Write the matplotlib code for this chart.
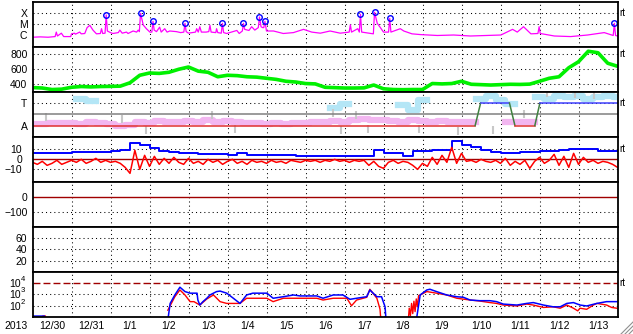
import numpy as np
import matplotlib.pyplot as plt
from matplotlib.lines import Line2D

plt.rcParams['font.family'] = ['Liberation Sans', 'DejaVu Sans']

nan = np.nan

# time axis: days since 2012-12-30 00:00
day_labels = ['12/30', '12/31', '1/1', '1/2', '1/3', '1/4', '1/5', '1/6',
              '1/7', '1/8', '1/9', '1/10', '1/11', '1/12', '1/13']

# x-ray flux (units of 1e-6 W/m2)
xr_day = [0.00, 0.20, 0.40, 0.58, 0.61, 0.64, 0.74, 0.80, 0.98, 1.00, 1.08, 1.10,
          1.21, 1.25, 1.34, 1.40, 1.47, 1.55, 1.64, 1.74, 1.77, 1.80, 1.86, 1.89,
          1.92, 2.00, 2.06, 2.20, 2.24, 2.30, 2.41, 2.45, 2.58, 2.67, 2.71, 2.74,
          2.77, 2.84, 2.92, 3.01, 3.06, 3.09, 3.12, 3.18, 3.26, 3.30, 3.39, 3.45,
          3.52, 3.69, 3.80, 3.88, 3.91, 3.94, 4.00, 4.18, 4.21, 4.25, 4.29, 4.33,
          4.45, 4.52, 4.55, 4.58, 4.70, 4.72, 4.75, 4.84, 4.87, 4.90, 4.98, 5.24,
          5.30, 5.38, 5.41, 5.44, 5.55, 5.62, 5.70, 5.79, 5.82, 5.86, 5.90, 5.93,
          5.96, 6.00, 6.18, 6.43, 6.69, 6.95, 7.16, 7.38, 7.63, 7.89, 8.12, 8.15,
          8.18, 8.34, 8.38, 8.41, 8.44, 8.74, 8.77, 8.84, 8.92, 9.00, 9.13, 9.16,
          9.19, 9.43, 9.52, 9.73, 9.95, 10.38, 10.80, 11.23, 11.66, 12.01, 12.31,
          12.43, 12.59, 12.78, 12.96, 12.99, 13.02, 13.38, 13.80, 14.23, 14.66,
          14.89, 14.92, 14.95, 15.00]
xr_flux = [0.70, 0.75, 0.70, 0.80, 2.0, 0.9, 1.6, 0.8, 0.8, 1.4, 1.6, 1.3,
           2.0, 1.4, 1.5, 5.0, 8.0, 3.0, 1.4, 1.5, 4.0, 1.5, 1.6, 66,
           2.5, 1.8, 1.5, 1.8, 3.0, 1.6, 2.0, 1.5, 2.5, 2.0, 3.0, 2.2,
           93, 8.5, 4.0, 2.0, 2.0, 18, 3.0, 2.2, 5.5, 2.0, 4.0, 2.0,
           2.5, 2.2, 1.8, 2.0, 12, 2.2, 1.6, 2.0, 4.0, 2.0, 6.0, 2.0,
           2.0, 2.2, 8.0, 2.0, 1.8, 4.0, 1.8, 1.6, 12, 1.8, 1.5, 2.8,
           1.5, 2.5, 12, 3.5, 2.8, 6.0, 3.0, 5.0, 44, 6.0, 5.0, 5.0,
           18, 2.5, 2.5, 1.5, 1.8, 3.5, 2.0, 1.6, 2.5, 1.6, 2.0, 9.0,
           2.0, 4.0, 2.0, 76, 2.0, 1.4, 115, 12, 5.0, 2.0, 2.0, 33,
           2.0, 4.0, 2.5, 1.4, 1.2, 1.0, 1.1, 0.9, 1.0, 1.1, 3.5,
           2.0, 6.0, 1.4, 1.5, 6.0, 1.5, 0.9, 0.8, 1.1, 1.8,
           1.0, 12, 1.0, 0.9]
flare_day = [1.89, 2.77, 3.09, 3.91, 4.87, 5.41, 5.82, 5.96, 8.41, 8.77, 9.16, 14.92]
flare_flux = [66, 93, 18, 12, 12, 12, 44, 18, 76, 115, 33, 12]

# solar wind speed (km/s), every 6 h
sw_speed = [356, 350, 330, 335, 360, 370, 365, 370, 372, 375, 420, 520,
            550, 545, 560, 600, 630, 575, 560, 500, 520, 515, 500, 495,
            480, 465, 440, 430, 410, 405, 360, 355, 350, 350, 352, 390,
            340, 330, 328, 330, 330, 410, 405, 410, 440, 400, 395, 390,
            395, 400, 398, 402, 440, 480, 500, 620, 700, 840, 820, 680, 640]

# activity panel: A level = 1, T level = 3, every 6 h
act_pink = [1.1, 1.15, 1.25, 1.2, 1.25, 1.15, 1.3, 1.2, 1.1, 0.95, 1.05, 1.3,
            1.25, 1.4, 1.3, 1.35, 1.4, 1.35, 1.45, 1.35, 1.4, 1.3, 1.2, 1.25,
            1.15, 1.2, 1.1, 1.25, 1.2, 1.35, 1.3, 1.4, 1.3, 1.5, 1.55, 1.45,
            1.5, 1.4, 1.35, 1.45, 1.4, 1.3, 1.4, 1.35, 1.3, 1.35, nan, nan,
            nan, 1.3, 1.35, 1.3, nan, nan, nan, nan, nan, nan, nan, nan, nan]
act_blue = [nan, nan, nan, nan, nan, 3.4, 3.2, nan, nan, nan, nan, nan,
            nan, nan, nan, nan, nan, nan, nan, nan, nan, nan, nan, nan,
            nan, nan, nan, nan, nan, nan, nan, 2.6, 2.9, nan, nan, nan,
            nan, nan, 2.8, 2.4, 3.3, nan, nan, nan, nan, nan, 3.4, 3.6,
            3.3, 2.9, nan, nan, 3.5, 3.4, 3.6, 3.5, 3.6, 3.4, 3.5, 3.6, 3.5]
gray_day = [0.35, 2.3, 2.9, 4.6, 5.2, 7.7, 7.9, 8.3, 8.6, 9.9, 10.9, 11.8, 12.6, 13.2, 13.9, 14.4]
gray_lev = [1.8, 1.6, 0.6, 1.9, 0.7, 2.1, 0.6, 1.9, 0.7, 0.7, 0.5, 0.6, 2.0, 3.9, 3.8, 3.7]
state_day = [0, 11.35, 11.49, 12.23, 12.37, 12.88, 13.01, 15]
state_lev = [1, 1, 3, 3, 1, 1, 3, 3]

# IMF (nT): Bt every 6 h, Bz every 3 h
bt = [6, 6, 6, 6.5, 7.5, 7.6, 7.6, 7.6, 8, 9, 16, 14,
      11, 8, 7.5, 6, 6, 5.3, 5.3, 5, 4.6, 6, 4.6, 4.5,
      4, 4, 4, 3.8, 3.5, 3, 3, 3, 3, 3, 3.5, 9.6,
      6.3, 6, 3.5, 8, 8.5, 9.3, 9, 18, 14, 12, 9, 7,
      6.6, 6.6, 7.6, 7.6, 8.6, 8.6, 9.5, 10, 10, 10.5, 8, 8, 8]
bz = [-3, -5, -2, -6, -4, -1, -5, -3, -1, -3, 0, -4, -2, 1, -3, -1,
      -3, -2, -4, -8, -14, 9, -10, 4, -7, 3, -5, 1, -4, 2, -3, -5,
      1, -4, -2, -5, 0, -3, -1, -5, -2, 0, -4, -2, -5, -1, -3, -2,
      -4, -1, -3, -2, -4, -1, -2, -3, -1, -2, -1, -3, -1, -2, 0, -2,
      -1, -3, -1, -2, -1, -6, -2, -7, -9, -3, -1, -4, -2, -3, -6, -10,
      -4, -7, 2, -5, 4, -3, 12, -4, 6, -2, -1, -3, 0, -2, -3, -1,
      -4, 1, -6, -2, -5, -1, -9, -2, 2, -4, -1, 5, -6, 3, -8, 6,
      -5, 2, -3, -1, -4, -2, -3, -5, -8]

# proton flux (pfu)
pb_day = [0.0, 0.3, 0.31, 3.44, 3.53, 3.65, 3.78, 3.91, 4.04, 4.22, 4.24, 4.29,
          4.37, 4.47, 4.55, 4.64, 4.72, 4.81, 4.98, 5.15, 5.32, 5.49, 5.65, 6.01,
          6.17, 6.43, 6.69, 6.86, 7.29, 7.45, 7.71, 7.96, 8.14, 8.31, 8.57, 8.65,
          8.83, 8.95, 9.04, 9.08, 9.09, 9.81, 9.94, 10.11, 10.19, 10.36, 10.62,
          10.88, 11.05, 11.22, 11.47, 11.73, 11.9, 12.07, 12.42, 12.67, 12.84,
          13.1, 13.35, 13.53, 13.7, 13.87, 14.04, 14.21, 14.47, 14.72, 14.98]
pb_flux = [12, 12, nan, 1, 160, 900, 4400, 1800, 1300, 1300, 320, 115,
           230, 460, 900, 1300, 1800, 2000, 1300, 460, 160, 900, 1300, 1300,
           460, 630, 900, 740, 740, 460, 900, 900, 370, 460, 630, 2500,
           630, 630, 80, 1, nan, 1, 900, 2500, 2900, 1800, 900,
           630, 560, 320, 280, 280, 230, 140, 115, 160, 190,
           115, 80, 80, 160, 190, 115, 95, 160, 230, 230]
pr_day = [0.27, 0.33, 0.34, 3.47, 3.65, 3.78, 3.91, 4.04, 4.14, 4.29, 4.47, 4.64,
          4.81, 4.98, 5.15, 5.32, 5.49, 5.65, 6.01, 6.17, 6.43, 6.86, 7.29, 7.45,
          7.71, 8.06, 8.18, 8.31, 8.57, 8.65, 8.83, 8.91, 8.95, 8.96,
          9.63, 9.66, 9.69, 9.72, 9.75, 9.78, 9.81, 9.84, 9.87, 9.90, 9.94,
          10.11, 10.36, 10.62, 10.88, 11.22, 11.47, 11.73, 11.9, 12.07, 12.42,
          12.67, 12.84, 13.1, 13.35, 13.53, 13.7, 13.87, 13.98, 14.04, 14.21,
          14.38, 14.47, 14.72, 14.85, 14.98]
pr_flux = [12, 12, nan, 40, 630, 2500, 900, 230, 230, 115, 400, 900,
           230, 160, 160, 160, 460, 460, 460, 230, 460, 460, 460, 320,
           460, 460, 100, 320, 560, 2900, 460, 50, 1, nan,
           3, 60, 13, 160, 20, 250, 30, 400, 80, 800, 900,
           1800, 1300, 900, 460, 320, 260, 190, 160, 115, 95,
           140, 115, 70, 80, 60, 115, 60, 35, 60, 48,
           115, 160, 115, 70, 60]
p_levels = [1e4, 1e3, 1e2]
p_exps = ['4', '3', '2']

# ------------------------------------------------------------------
W, H = 633, 334
fig = plt.figure(figsize=(W / 100, H / 100), dpi=100)
x0, x1 = 32.5, 617.5
top, ph = 1.7, 45.04
dot = dict(color='k', lw=0.75, ls=(0, (1, 3)), zorder=1)
darkred = '#A00000'

axes = []
for i in range(7):
    yb = top + (i + 1) * ph
    ax = fig.add_axes([x0 / W, 1 - yb / H, (x1 - x0) / W, ph / H])
    ax.set_xlim(0, 15)
    ax.set_xticks(range(16))
    ax.set_xticklabels([])
    ax.tick_params(length=0, labelsize=7.5, pad=3.6)
    for d in range(1, 15):
        ax.axvline(d, **dot)
    for s in ax.spines.values():
        s.set_linewidth(1.3)
        s.set_zorder(10)
    axes.append(ax)

def rt(ax, level):
    ax.text(1.004, level, 'rt', transform=ax.get_yaxis_transform(),
            fontsize=7, va='center', ha='left')

# 1: x-ray
ax = axes[0]
ax.set_yscale('log')
ax.set_ylim(1e-7, 1e-3)
ax.set_yticks([1e-4, 1e-5, 1e-6], ['X', 'M', 'C'])
ax.minorticks_off()
for lv in [1e-4, 1e-5]:
    ax.axhline(lv, **dot)
ax.plot(xr_day, np.array(xr_flux) * 1e-6, color='#FF00FF', lw=0.9, zorder=3)
ax.plot(flare_day, np.array(flare_flux) * 1e-6, 'o', ms=4, mfc='none',
        mec='#0000FF', mew=1, zorder=4)
rt(ax, 1e-4)

# 2: speed
ax = axes[1]
ax.set_ylim(300, 900)
ax.set_yticks([800, 600, 400])
for lv in [800, 600, 400]:
    ax.axhline(lv, **dot)
t6 = np.arange(len(sw_speed)) * 0.25
ax.plot(t6, sw_speed, color='#00F000', lw=2.6, zorder=3)
rt(ax, 800)

# 3: activity state
ax = axes[2]
ax.set_ylim(0, 4)
ax.set_yticks([3, 1], ['T', 'A'])
ax.axhline(3, **dot)
ax.plot(t6, act_pink, color='#F2B6F0', lw=4.5, drawstyle='steps-mid', zorder=2)
ax.plot(t6, act_blue, color='#B4E6F6', lw=4.5, drawstyle='steps-mid', zorder=2)
ax.plot(gray_day, gray_lev, '|', color='#C8C8C8', ms=6, mew=1.5, zorder=2)
ax.axhline(2, color='#808080', lw=1.1, zorder=3)
for k in range(len(state_day) - 1):
    a, b = state_lev[k], state_lev[k + 1]
    c = '#E03030' if a == b == 1 else ('#4040FF' if a == b == 3 else '#408040')
    ax.plot(state_day[k:k + 2], state_lev[k:k + 2], color=c, lw=1.1, zorder=4)
rt(ax, 3)

# 4: IMF
ax = axes[3]
ax.set_ylim(-22.5, 22.5)
ax.set_yticks([10, 0, -10])
ax.tick_params(axis='y', pad=7.5)
for lv in [10, -10]:
    ax.axhline(lv, **dot)
ax.axhline(0, color=darkred, lw=1.0, zorder=2)
t3 = np.arange(len(bz)) * 0.125
ax.plot(t6, bt, color='#0000FF', lw=1.4, drawstyle='steps-post', zorder=3)
ax.plot(t3, bz, color='#FF0000', lw=1.1, zorder=4)
rt(ax, 10)

# 5: Dst (no data)
ax = axes[4]
ax.set_ylim(-200, 100)
ax.set_yticks([0, -100])
ax.axhline(0, color=darkred, lw=1.0, zorder=2)
ax.axhline(-100, **dot)

# 6: empty
ax = axes[5]
ax.set_ylim(0, 80)
ax.set_yticks([60, 40, 20])
for lv in [60, 40, 20]:
    ax.axhline(lv, **dot)

# 7: protons
ax = axes[6]
ax.set_yscale('log')
ax.set_ylim(10, 1e5)
ax.set_yticks(p_levels, ['10'] * len(p_levels))
ax.minorticks_off()
ax.tick_params(axis='y', pad=8.5, labelsize=7.5)
for lv, e in zip(p_levels, p_exps):
    ax.text(-0.0165, lv, e, transform=ax.get_yaxis_transform(), fontsize=5.5,
            ha='center', va='bottom')
for lv in [1e3, 1e2]:
    ax.axhline(lv, **dot)
ax.axhline(1e4, color=darkred, lw=1.0, ls=(0, (5, 2.2)), zorder=2)
ax.plot(pr_day, pr_flux, color='#FF0000', lw=1.0, zorder=3)
ax.plot(pb_day, pb_flux, color='#0000FF', lw=1.1, zorder=4)
ax.set_xticks(np.arange(15) + 0.5, day_labels, minor=True)
ax.tick_params(axis='x', which='minor', length=0, labelsize=7.5, pad=3)
rt(ax, 1e4)

fig.text(16 / W, 1 - 326 / H, '2013', fontsize=7.5, ha='center', va='center')

# window resize grip
for k in range(3):
    o = 4 * k
    fig.add_artist(Line2D([(621 + o) / W, 633 / W], [0, (12 - o) / H],
                          color='#909090', lw=0.8, transform=fig.transFigure))

fig.savefig('out.png', dpi=100)
